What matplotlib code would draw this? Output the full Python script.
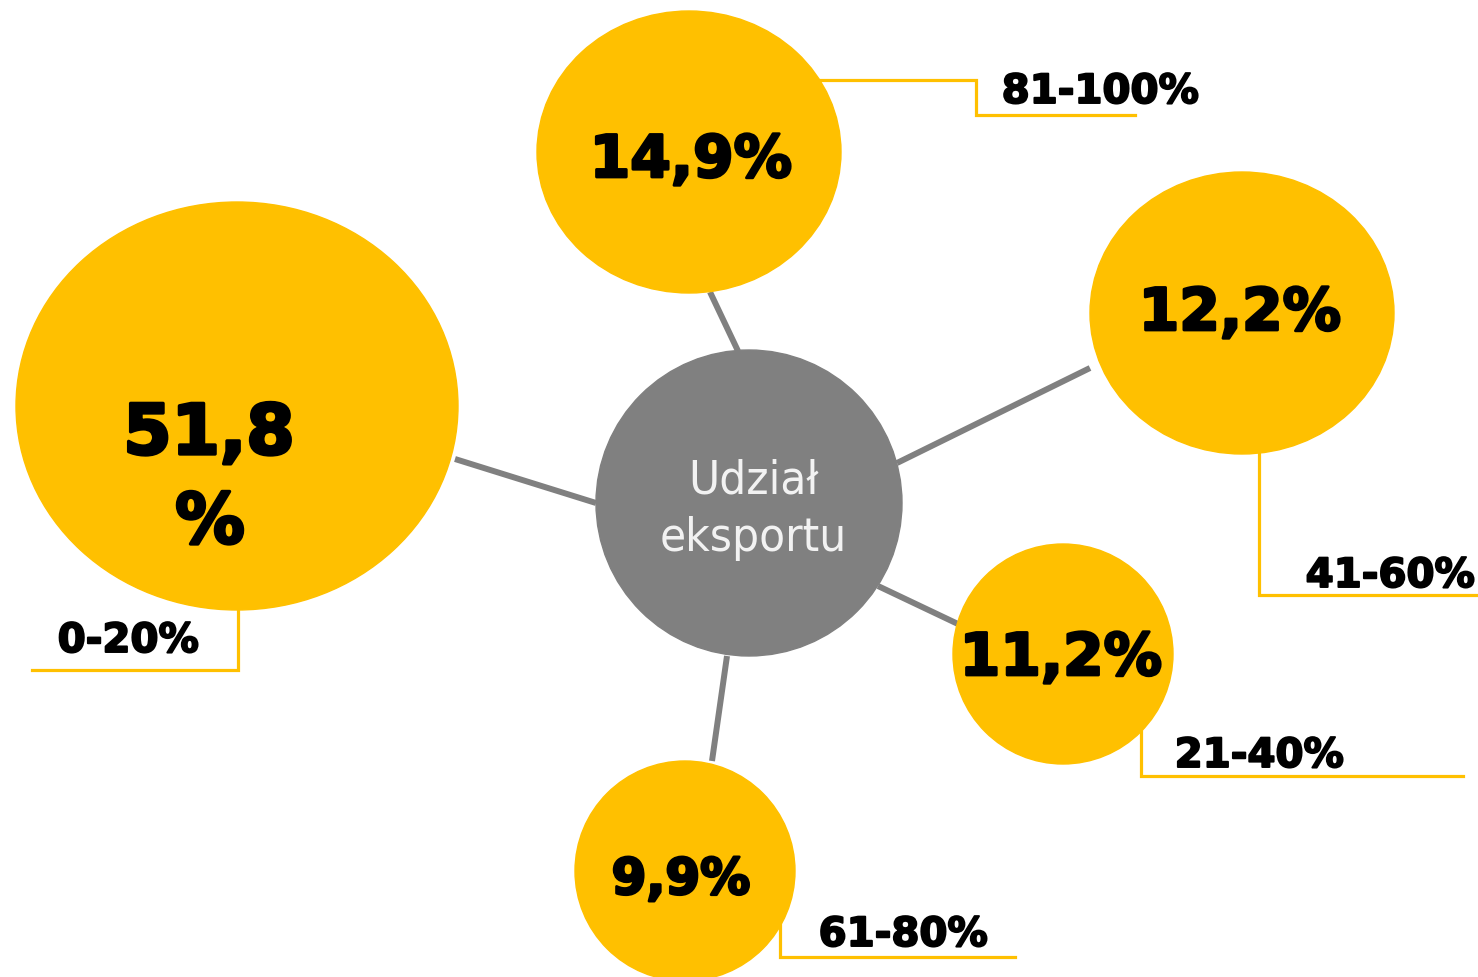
import matplotlib
matplotlib.use("Agg")
import matplotlib.pyplot as plt
from matplotlib.patches import Ellipse
import matplotlib.patheffects as pe

# ---- data ----
categories = ["0-20%", "21-40%", "41-60%", "61-80%", "81-100%"]
shares = [51.8, 11.2, 12.2, 9.9, 14.9]
center_label = ["Udział", "eksportu"]

# ---- layout (pixel coordinates, y downward) ----
W, H = 1478, 978
YELLOW = "#FFC000"
GREY = "#808080"
hub = (749, 504, 153)
bubble_xy = [(237, 407), (1063, 655), (1242, 314), (685, 872), (689, 153)]
bubble_r = [(221, 204), (110, 110), (152, 141), (110, 110), (152, 141)]
connectors = [((455, 460), (596, 504)), ((878, 587), (958, 625)),
              ((897, 464), (1090, 369)), ((727, 657), (712, 762)),
              ((738, 352), (710, 293))]
brackets = [[(238, 600), (238, 671), (32, 671)],
            [(1141, 720), (1141, 777), (1463, 777)],
            [(1259, 445), (1259, 596), (1478, 596)],
            [(780, 915), (780, 958), (1015, 958)],
            [(815, 81), (976, 81), (976, 116), (1135, 116)]]
label_xy = [(128, 653), (1259, 768), (1390, 588), (903, 947), (1100, 104)]
value_xy = [(209, 455), (1061, 676), (1240, 331), (681, 895), (691, 178)]
value_size = [50, 42, 42, 36, 42]

fig = plt.figure(figsize=(W / 100, H / 100), dpi=100)
ax = fig.add_axes([0, 0, 1, 1])
ax.set_xlim(0, W)
ax.set_ylim(H, 0)
ax.set_aspect("equal")
ax.axis("off")

BOLD = "DejaVu Sans"
stroke = lambda w: [pe.withStroke(linewidth=w, foreground="black")]

for (p0, p1) in connectors:
    ax.plot([p0[0], p1[0]], [p0[1], p1[1]], color=GREY, lw=4.3,
            solid_capstyle="butt", zorder=1)

for pts in brackets:
    ax.plot([p[0] for p in pts], [p[1] for p in pts], color=YELLOW, lw=2.3,
            solid_joinstyle="miter", zorder=1)

ax.add_patch(Ellipse(hub[:2], 2 * hub[2], 2 * hub[2], color=GREY, zorder=2))
for line, by in zip(center_label, (494, 551)):
    ax.text(hub[0] + 4, by, line, ha="center", va="baseline",
            color="#F2F2F2", fontsize=34, family="DejaVu Sans",
            fontstretch="condensed", zorder=3)

for i, (cat, val) in enumerate(zip(categories, shares)):
    cx, cy = bubble_xy[i]
    rx, ry = bubble_r[i]
    ax.add_patch(Ellipse((cx, cy), 2 * rx, 2 * ry, color=YELLOW, zorder=2))
    txt = f"{val:.1f}".replace(".", ",")
    vx, vy = value_xy[i]
    if i == 0:
        ax.text(vx, vy, txt, ha="center", va="baseline", fontsize=value_size[i],
                weight="bold", family=BOLD, color="black", zorder=3,
                path_effects=stroke(2.4))
        ax.text(vx + 1, 544, "%", ha="center", va="baseline", fontsize=value_size[i],
                weight="bold", family=BOLD, color="black", zorder=3,
                path_effects=stroke(2.4))
    else:
        ax.text(vx, vy, txt + "%", ha="center", va="baseline", fontsize=value_size[i],
                weight="bold", family=BOLD, color="black", zorder=3,
                path_effects=stroke(2.0))
    lx, ly = label_xy[i]
    ax.text(lx, ly, cat, ha="center", va="baseline", fontsize=29,
            weight="bold", family=BOLD, color="black", zorder=3,
            path_effects=stroke(1.4))

fig.savefig("out.png", dpi=100, facecolor="white")
